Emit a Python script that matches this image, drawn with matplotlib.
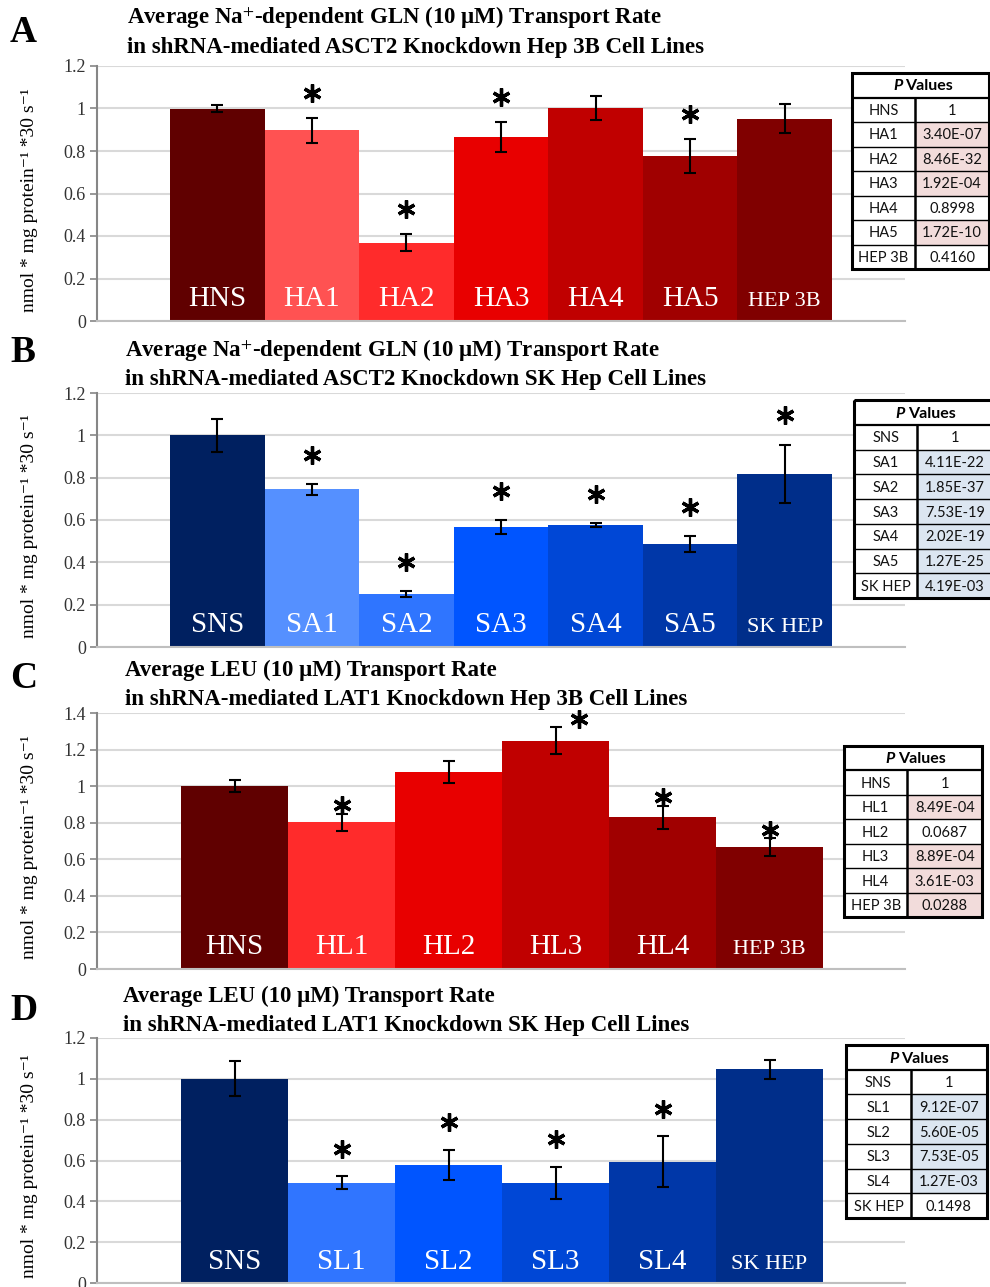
import numpy as np
import matplotlib.pyplot as plt
from matplotlib.patches import Rectangle
from matplotlib.ticker import FuncFormatter, MultipleLocator
from matplotlib.transforms import offset_copy, blended_transform_factory

plt.rcParams['font.family'] = ['Liberation Serif', 'DejaVu Serif']
plt.rcParams['mathtext.fontset'] = 'stix'

# panel A - GLN, ASCT2 knockdown, Hep 3B
a_names = ['HNS', 'HA1', 'HA2', 'HA3', 'HA4', 'HA5', 'HEP 3B']
a_vals = [1.0, 0.897, 0.369, 0.866, 1.004, 0.776, 0.952]
a_errs = [0.017, 0.059, 0.041, 0.070, 0.057, 0.079, 0.069]
a_pvals = ['1', '3.40E-07', '8.46E-32', '1.92E-04', '0.8998', '1.72E-10', '0.4160']

# panel B - GLN, ASCT2 knockdown, SK Hep
b_names = ['SNS', 'SA1', 'SA2', 'SA3', 'SA4', 'SA5', 'SK HEP']
b_vals = [1.0, 0.745, 0.249, 0.567, 0.575, 0.487, 0.817]
b_errs = [0.078, 0.025, 0.015, 0.033, 0.009, 0.036, 0.139]
b_pvals = ['1', '4.11E-22', '1.85E-37', '7.53E-19', '2.02E-19', '1.27E-25', '4.19E-03']

# panel C - LEU, LAT1 knockdown, Hep 3B
c_names = ['HNS', 'HL1', 'HL2', 'HL3', 'HL4', 'HEP 3B']
c_vals = [1.0, 0.802, 1.077, 1.248, 0.829, 0.667]
c_errs = [0.033, 0.047, 0.058, 0.073, 0.064, 0.048]
c_pvals = ['1', '8.49E-04', '0.0687', '8.89E-04', '3.61E-03', '0.0288']

# panel D - LEU, LAT1 knockdown, SK Hep
d_names = ['SNS', 'SL1', 'SL2', 'SL3', 'SL4', 'SK HEP']
d_vals = [1.0, 0.491, 0.578, 0.491, 0.593, 1.046]
d_errs = [0.085, 0.031, 0.075, 0.079, 0.125, 0.047]
d_pvals = ['1', '9.12E-07', '5.60E-05', '7.53E-05', '1.27E-03', '0.1498']

reds7 = ['#600000', '#ff5252', '#ff2b2b', '#e80000', '#c00000', '#a00000', '#800000']
blues7 = ['#002060', '#5590ff', '#2f75ff', '#0055ff', '#0047d6', '#0037a8', '#002e8a']
reds6 = ['#600000', '#ff2b2b', '#e80000', '#c00000', '#a00000', '#800000']
blues6 = ['#002060', '#3075ff', '#0055ff', '#0047d6', '#0037a8', '#002e8a']

W, H = 990.0, 1287.0
fig = plt.figure(figsize=(W / 100, H / 100), dpi=100)


def box(x0, y0, x1, y1):
    # pixel box (origin top-left) -> figure fraction rect
    return [x0 / W, 1 - y1 / H, (x1 - x0) / W, (y1 - y0) / H]


def p_table(rect, names, pvals, fill):
    tax = fig.add_axes(rect)
    n = len(names)
    tax.set_xlim(0, 1)
    tax.set_ylim(n + 1, 0)
    tax.axis('off')
    split = 0.46
    tax.add_patch(Rectangle((0, 0), 1, n + 1, facecolor='white', edgecolor='none'))
    tax.text(0.37, 0.55, 'P', ha='right', va='center', fontsize=11.5, family='Lato',
             weight='bold', style='italic')
    tax.text(0.39, 0.55, 'Values', ha='left', va='center', fontsize=11.5, family='Lato',
             weight='bold')
    for i, (nm, pv) in enumerate(zip(names, pvals)):
        y = i + 1
        if float(pv) < 0.05:
            tax.add_patch(Rectangle((split, y), 1 - split, 1, facecolor=fill, edgecolor='none'))
        tax.text(split / 2, y + 0.55, nm, ha='center', va='center', fontsize=10.5,
                 family='Lato', color='#111111')
        tax.text((1 + split) / 2, y + 0.55, pv, ha='center', va='center', fontsize=10.5,
                 family='Lato', color='#111111')
    for y in range(1, n + 1):
        tax.plot([0, 1], [y, y], color='k', lw=1.0 if y > 1 else 1.6)
    tax.plot([split, split], [1, n + 1], color='k', lw=1.8)
    tax.add_patch(Rectangle((0, 0), 1, n + 1, fill=False, lw=2.2, edgecolor='k', clip_on=False))


def panel(ax_px, bar_px, names, vals, errs, pvals, colors, ymax, letter, letter_xy,
          line1, line2, title_xy, tbl_px, fill, star_off, star_dx=0.0, star_shift=()):
    ax = fig.add_axes(box(*ax_px))
    n = len(names)
    x = np.arange(n)
    unit = (bar_px[1] - bar_px[0]) / n
    ax.set_xlim(-0.5 - (bar_px[0] - ax_px[0]) / unit, n - 0.5 + (ax_px[2] - bar_px[1]) / unit)
    ax.set_ylim(0, ymax)
    ax.bar(x, vals, width=1.0, color=colors, edgecolor='none', zorder=2)
    ax.errorbar(x, vals, yerr=errs, fmt='none', ecolor='k', elinewidth=1.5, capsize=4,
                capthick=1.5, zorder=3)

    sig = np.array([float(p) < 0.05 for p in pvals])
    tops = np.array(vals) + np.array(errs)
    sx = x + np.array([star_dx if i in star_shift else 0.0 for i in range(n)])
    trans = offset_copy(ax.transData, fig=fig, x=0, y=star_off, units='points')
    ax.plot(sx[sig], tops[sig], linestyle='none', marker=(6, 2, 0), ms=13, mew=2.4,
            color='k', transform=trans, clip_on=False, zorder=4)

    tr = blended_transform_factory(ax.transData, ax.transAxes)
    for i, nm in enumerate(names):
        ax.text(i, 0.058, nm, transform=tr, ha='center', va='baseline', color='white',
                fontsize=16 if len(nm) > 4 else 21, zorder=5)

    ax.yaxis.set_major_locator(MultipleLocator(0.2))
    ax.yaxis.set_major_formatter(FuncFormatter(lambda v, p: '%g' % round(v, 2)))
    ax.yaxis.grid(True, color='#d9d9d9', lw=1.5)
    ax.set_axisbelow(True)
    ax.set_xticks([])
    ax.tick_params(axis='y', length=5, width=1.2, color='#868686', labelsize=13,
                   labelcolor='#333333', pad=3)
    for s in ['top', 'right']:
        ax.spines[s].set_visible(False)
    ax.spines['left'].set_color('#868686')
    ax.spines['left'].set_linewidth(1.5)
    ax.spines['bottom'].set_color('#bfbfbf')
    ax.spines['bottom'].set_linewidth(1.5)
    ax.set_ylabel('nmol * mg protein\u207b\u00b9 *30 s\u207b\u00b9', fontsize=14)
    ax.yaxis.set_label_coords(-0.073, 0.475)

    fig.text(letter_xy[0] / W, 1 - letter_xy[1] / H, letter, fontsize=27, weight='bold',
             va='center', ha='left')
    fig.text(title_xy[0] / W, 1 - title_xy[1] / H, line1, fontsize=16.5, weight='bold',
             va='center', ha='left')
    fig.text(title_xy[0] / W, 1 - (title_xy[1] + 29) / H, line2, fontsize=16.5, weight='bold',
             va='center', ha='left')
    p_table(box(*tbl_px), names, pvals, fill)


pink = '#f2dcdb'
lblue = '#dce6f1'

panel((97, 66, 905, 321), (170, 832), a_names, a_vals, a_errs, a_pvals, reds7, 1.2,
      'A', (10, 32), r'Average Na$^{+}$-dependent GLN (10 μM) Transport Rate',
      'in shRNA-mediated ASCT2 Knockdown Hep 3B Cell Lines', (127, 18),
      (852, 73, 989, 269), pink, star_off=18)
panel((97, 393, 905, 647), (170, 832), b_names, b_vals, b_errs, b_pvals, blues7, 1.2,
      'B', (10, 352), r'Average Na$^{+}$-dependent GLN (10 μM) Transport Rate',
      'in shRNA-mediated ASCT2 Knockdown SK Hep Cell Lines', (125, 351),
      (854, 400, 992, 598), lblue, star_off=21)
panel((97, 713, 905, 969), (181, 823), c_names, c_vals, c_errs, c_pvals, reds6, 1.4,
      'C', (10, 679), 'Average LEU (10 μM) Transport Rate',
      'in shRNA-mediated LAT1 Knockdown Hep 3B Cell Lines', (125, 670),
      (844, 746, 982, 917), pink, star_off=6, star_dx=0.22, star_shift=(3,))
panel((97, 1038, 905, 1283), (181, 823), d_names, d_vals, d_errs, d_pvals, blues6, 1.2,
      'D', (10, 1010), 'Average LEU (10 μM) Transport Rate',
      'in shRNA-mediated LAT1 Knockdown SK Hep Cell Lines', (123, 996),
      (846, 1045, 987, 1218), lblue, star_off=20)

fig.savefig('out.png', dpi=100)
